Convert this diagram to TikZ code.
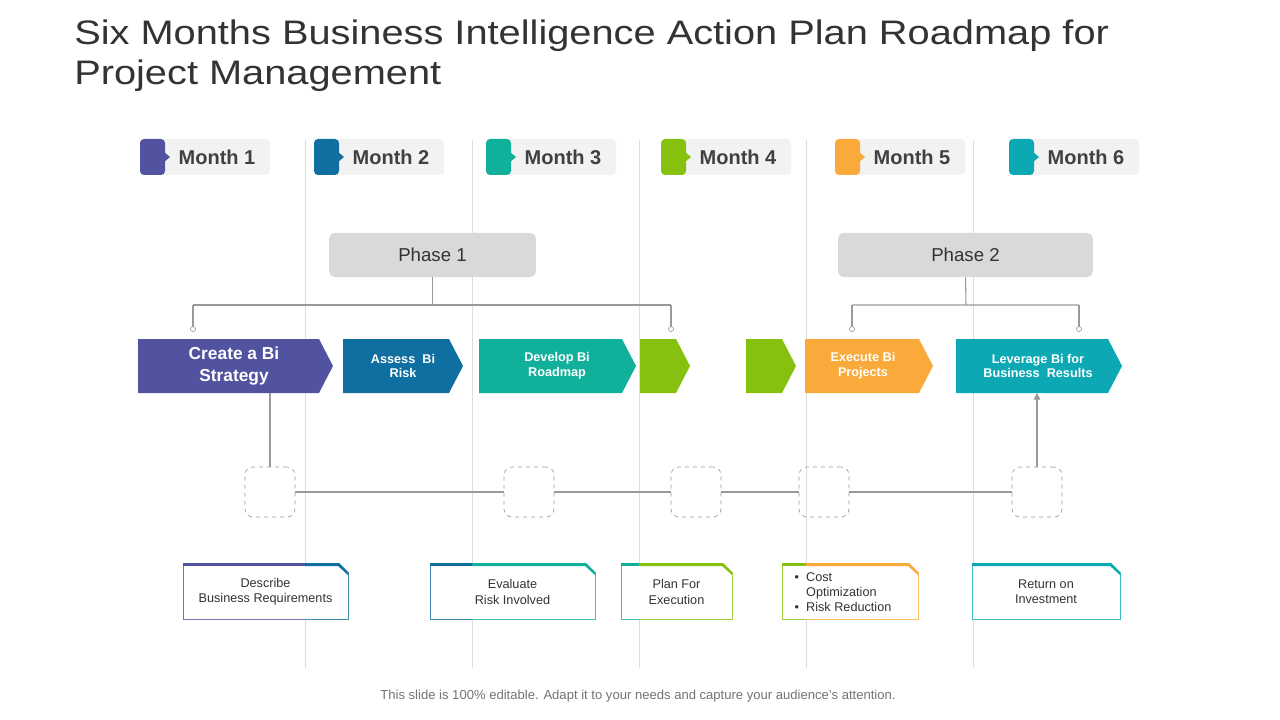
\documentclass[tikz,border=0pt]{standalone}
\usepackage{fontspec}
\setmainfont{Liberation Sans}
\usepackage{graphicx}
\usetikzlibrary{arrows.meta}

\definecolor{cPurple}{HTML}{5152A0}
\definecolor{cBlue}{HTML}{0E6FA0}
\definecolor{cTeal}{HTML}{11B09A}
\definecolor{cGreen}{HTML}{86C10F}
\definecolor{cOrange}{HTML}{F9AA3A}
\definecolor{cCyan}{HTML}{0CA8B4}
\definecolor{cGrid}{HTML}{DDDDDD}
\definecolor{cLine}{HTML}{9A9A9A}

\tikzset{
  gridline/.style={cGrid, line width=0.6pt},
  linkline/.style={cLine, line width=0.8pt},
  slot/.style={draw=cLine, dashed, rounded corners=6pt, minimum width=37.5pt, minimum height=37.5pt, line width=0.5pt},
  phasebox/.style={fill=black!15, rounded corners=4pt, minimum width=155pt, minimum height=33pt, font=\fontsize{14}{16}\selectfont, text=black!80},
  chevtext/.style={text=white, font=\bfseries\fontsize{9.5}{11}\selectfont, align=center},
  note/.style={font=\fontsize{9.5}{11.5}\selectfont, text=black!80, align=center},
}

% chevron: x-left, x-right, colour
\newcommand{\chev}[3]{%
  \fill[#3] (#1,339) -- (#2-14,339) -- (#2,366) -- (#2-14,393) -- (#1,393) -- cycle;}
% month tab: x-left, colour, label
\newcommand{\monthtab}[3]{%
  \fill[black!5, rounded corners=3pt] (#1+20,139) rectangle (#1+130,175);
  \fill[#2, rounded corners=3pt] (#1,139) rectangle (#1+25,175);
  \fill[#2] (#1+24,152) -- (#1+30,157) -- (#1+24,162) -- cycle;
  \node[anchor=west, font=\bfseries\fontsize{15}{17}\selectfont, text=black!75] at (#1+34,157) {#3};}
% note box: x-left, x-split, x-right, colour left, colour right
\newcommand{\notebox}[5]{%
  \fill[white] (#1,563) -- (#3-9,563) -- (#3,572) -- (#3,619) -- (#1,619) -- cycle;
  \draw[#5!80, line width=0.6pt] (#2,619) -- (#3,619) -- (#3,572);
  \draw[#4!80, line width=0.6pt] (#1,563) -- (#1,619) -- (#2,619);
  \fill[#4] (#1,563) rectangle (#2,566);
  \fill[#5] (#2,563) -- (#3-9,563) -- (#3,572) -- (#3,575) -- (#3-10,566) -- (#2,566) -- cycle;}

\begin{document}
\begin{tikzpicture}[x=0.75pt, y=-0.75pt]
    \useasboundingbox (0,0) rectangle (1280,720);

    % title
    \node[anchor=north west, align=left, text=black!80, font=\fontsize{25.5}{30}\selectfont, inner sep=0pt] (title) at (74,20)
        {\scalebox{1.17}[1]{Six Months Business Intelligence Action Plan Roadmap for}\\\scalebox{1.17}[1]{Project Management}};

    % month grid
    \foreach \gx in {305,472,639,806,973}
        \draw[gridline] (\gx,140) -- (\gx,668);

    \monthtab{140}{cPurple}{Month 1}
    \monthtab{314}{cBlue}{Month 2}
    \monthtab{486}{cTeal}{Month 3}
    \monthtab{661}{cGreen}{Month 4}
    \monthtab{835}{cOrange}{Month 5}
    \monthtab{1009}{cCyan}{Month 6}

    % phases
    \node[phasebox] (phaseA) at (432.5,255) {Phase 1};
    \node[phasebox, minimum width=191pt] (phaseB) at (965.5,255) {Phase 2};
    \coordinate (pa) at (432.5,305);
    \coordinate (pb) at (966,305);
    \draw[linkline] (phaseA.south) -- (pa) (193,305) -- (671,305);
    \draw[linkline] (phaseB.south) -- (pb) (852,305) -- (1079,305);
    \foreach \cx in {193,671,852,1079} {
        \draw[linkline] (\cx,305) -- (\cx,326.5);
        \draw[cLine, fill=white, line width=0.5pt] (\cx,329) circle (2.5);
    }

    % action chevrons
    \chev{138}{333}{cPurple}
    \chev{343}{463}{cBlue}
    \chev{479}{636}{cTeal}
    \chev{640}{690}{cGreen}
    \chev{746}{796}{cGreen}
    \chev{805}{933}{cOrange}
    \chev{956}{1122}{cCyan}
    \node[chevtext, font=\bfseries\fontsize{13}{16}\selectfont, minimum height=40pt] (create) at (234,366) {Create a Bi\\Strategy};
    \node[chevtext] (assess) at (403,366) {Assess~~Bi\\Risk};
    \node[chevtext] (develop) at (557,366) {Develop Bi\\Roadmap};
    \node[chevtext] (execute) at (863,366) {Execute Bi\\Projects};
    \node[chevtext, minimum height=40pt] (leverage) at (1038,366) {Leverage Bi for\\Business~~Results};

    % timeline slots
    \node[slot] (s1) at (270,492) {};
    \node[slot] (s2) at (529,492) {};
    \node[slot] (s3) at (696,492) {};
    \node[slot] (s4) at (824,492) {};
    \node[slot] (s5) at (1037,492) {};
    \draw[linkline] (s1) -- (s2) -- (s3) -- (s4) -- (s5);
    \draw[linkline] (270,393) -- (s1.north);
    \draw[linkline, -{Triangle[length=5pt, width=5pt]}] (s5.north) -- (leverage.south -| s5.north);

    % notes
    \notebox{183}{305}{348}{cPurple}{cBlue}
    \notebox{430}{472}{595}{cBlue}{cTeal}
    \notebox{621}{639}{732}{cTeal}{cGreen}
    \notebox{782}{806}{918}{cGreen}{cOrange}
    \notebox{972}{973}{1120}{cCyan}{cCyan}
    \node[note] (n1) at (265.5,592) {Describe\\Business Requirements};
    \node[note] (n2) at (512.5,592) {Evaluate\\Risk Involved};
    \node[note] (n3) at (676.5,592) {Plan For\\Execution};
    \node[note, anchor=west, align=left] (n4) at (790,592)
        {\textbullet~~Cost\\\phantom{\textbullet~~}Optimization\\\textbullet~~Risk Reduction};
    \node[note] (n5) at (1046,592) {Return on\\Investment};

    % footer
    \node[text=black!55, font=\fontsize{9.8}{11}\selectfont] (foot) at (638,696)
        {This slide is 100\% editable. Adapt it to your needs and capture your audience's attention.};
\end{tikzpicture}
\end{document}
